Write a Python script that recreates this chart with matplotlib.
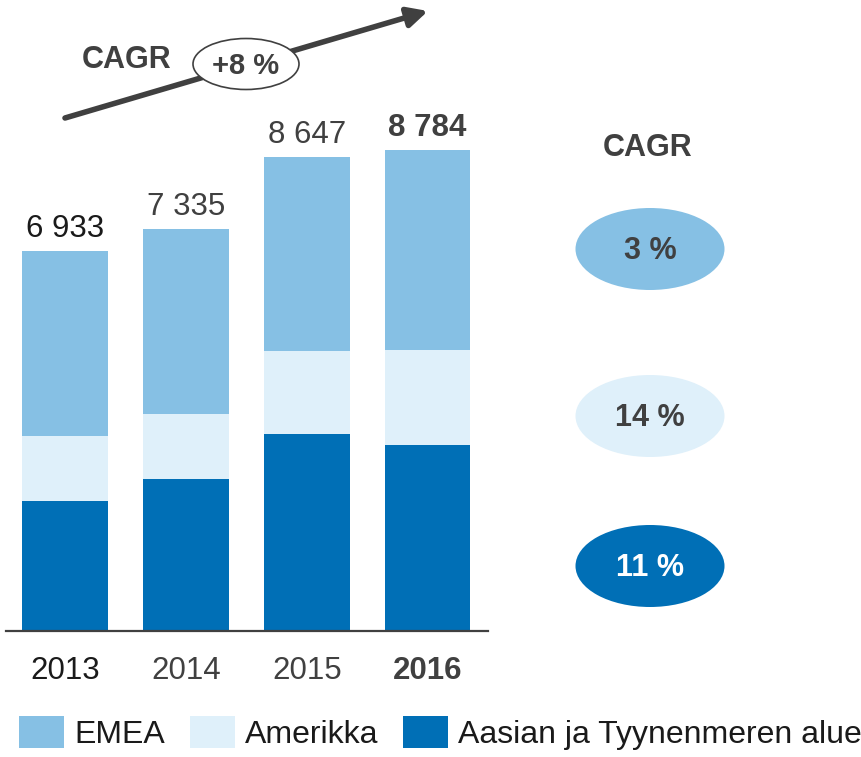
import numpy as np
import matplotlib
matplotlib.use("Agg")
import matplotlib.pyplot as plt
from matplotlib.patches import Ellipse
from matplotlib import font_manager

# data
years = ["2013", "2014", "2015", "2016"]
totals = [6933, 7335, 8647, 8784]
apac = [2366, 2769, 3597, 3394]
amerikka = [1192, 1192, 1508, 1742]
emea = [t - a - m for t, a, m in zip(totals, apac, amerikka)]
series_names = ["EMEA", "Amerikka", "Aasian ja Tyynenmeren alue"]
cagr_labels = ["3 %", "14 %", "11 %"]
total_cagr = "+8 %"

c_emea = "#86C0E4"
c_amer = "#DFF0FA"
c_apac = "#006FB6"
dark = "#404040"

plt.rcParams['font.family'] = ['Liberation Sans', 'DejaVu Sans']
names = {f.name for f in font_manager.fontManager.ttflist}
if 'Liberation Sans Narrow' in names:
    leg_font, leg_size = ['Liberation Sans Narrow', 'Liberation Sans'], 27
else:
    leg_font, leg_size = ['Liberation Sans', 'DejaVu Sans'], 23

W, H = 861, 757
fig = plt.figure(figsize=(W / 100, H / 100), dpi=100)

# main bar axes, pixel-matched to the reference
base = 631
ax = fig.add_axes([6 / W, (H - base) / H, 482 / W, base / H])
x = np.arange(len(years))
bw = 0.71
b1 = ax.bar(x, apac, bw, color=c_apac, label=series_names[2])
b2 = ax.bar(x, amerikka, bw, bottom=apac, color=c_amer, label=series_names[1])
bottom2 = [a + m for a, m in zip(apac, amerikka)]
b3 = ax.bar(x, emea, bw, bottom=bottom2, color=c_emea, label=series_names[0])
ax.set_xlim(-0.49, 3.5)
ax.set_ylim(0, base * 18.25)
for s in ["top", "right", "left"]:
    ax.spines[s].set_visible(False)
ax.spines["bottom"].set_color(dark)
ax.spines["bottom"].set_linewidth(1.6)
ax.set_yticks([])
ax.set_xticks(x)
ax.set_xticklabels(years, fontsize=22.5)
ax.tick_params(axis="x", length=0, pad=18)
tick_cols = ["#1a1a1a", dark, dark, dark]
for i, lab in enumerate(ax.get_xticklabels()):
    lab.set_color(tick_cols[i])
    if i == len(years) - 1:
        lab.set_fontweight("bold")

for i, t in enumerate(totals):
    txt = f"{t:,}".replace(",", " ")
    last = i == len(totals) - 1
    ax.annotate(txt, (x[i], t), xytext=(0, 5), textcoords="offset points",
                ha="center", va="bottom", fontsize=22.5,
                color="#1a1a1a" if i == 0 else dark,
                fontweight="bold" if last else "normal")

# overlay in pixel coordinates for the annotations
ov = fig.add_axes([0, 0, 1, 1])
ov.set_xlim(0, W)
ov.set_ylim(H, 0)
ov.axis("off")
ov.patch.set_alpha(0)

ov.annotate("", xy=(428, 11), xytext=(65, 118),
            arrowprops=dict(arrowstyle="-|>,head_length=1.2,head_width=0.6",
                            color=dark, lw=4, shrinkA=0, shrinkB=0))
ov.add_patch(Ellipse((246, 64), 106, 51, facecolor="white", edgecolor=dark, lw=1.2, zorder=3))
ov.text(246, 66, total_cagr, ha="center", va="center", fontsize=21,
        fontweight="bold", color=dark, zorder=4)
ov.text(127, 60, "CAGR", ha="center", va="center", fontsize=22,
        fontweight="bold", color=dark)

# right side CAGR bubbles
ov.text(648, 148, "CAGR", ha="center", va="center", fontsize=22,
        fontweight="bold", color=dark)
bubble_y = [249, 416, 566]
bubble_fc = [c_emea, c_amer, c_apac]
bubble_tc = [dark, dark, "white"]
for yb, lab, fc, tc in zip(bubble_y, cagr_labels, bubble_fc, bubble_tc):
    ov.add_patch(Ellipse((650, yb), 149, 82, facecolor=fc, edgecolor="none"))
    ov.text(650, yb + 2, lab, ha="center", va="center", fontsize=22,
            fontweight="bold", color=tc)

leg = fig.legend(handles=[b3, b2, b1], labels=series_names, ncol=3,
                 loc="lower left", bbox_to_anchor=(16 / W, 4 / H),
                 frameon=False, handlelength=1.41, handleheight=1.13,
                 handletextpad=0.31, columnspacing=0.78, borderaxespad=0,
                 borderpad=0.1, prop=dict(family=leg_font, size=leg_size))
for t in leg.get_texts():
    t.set_color("#1a1a1a")

fig.savefig("out.png", dpi=100)
